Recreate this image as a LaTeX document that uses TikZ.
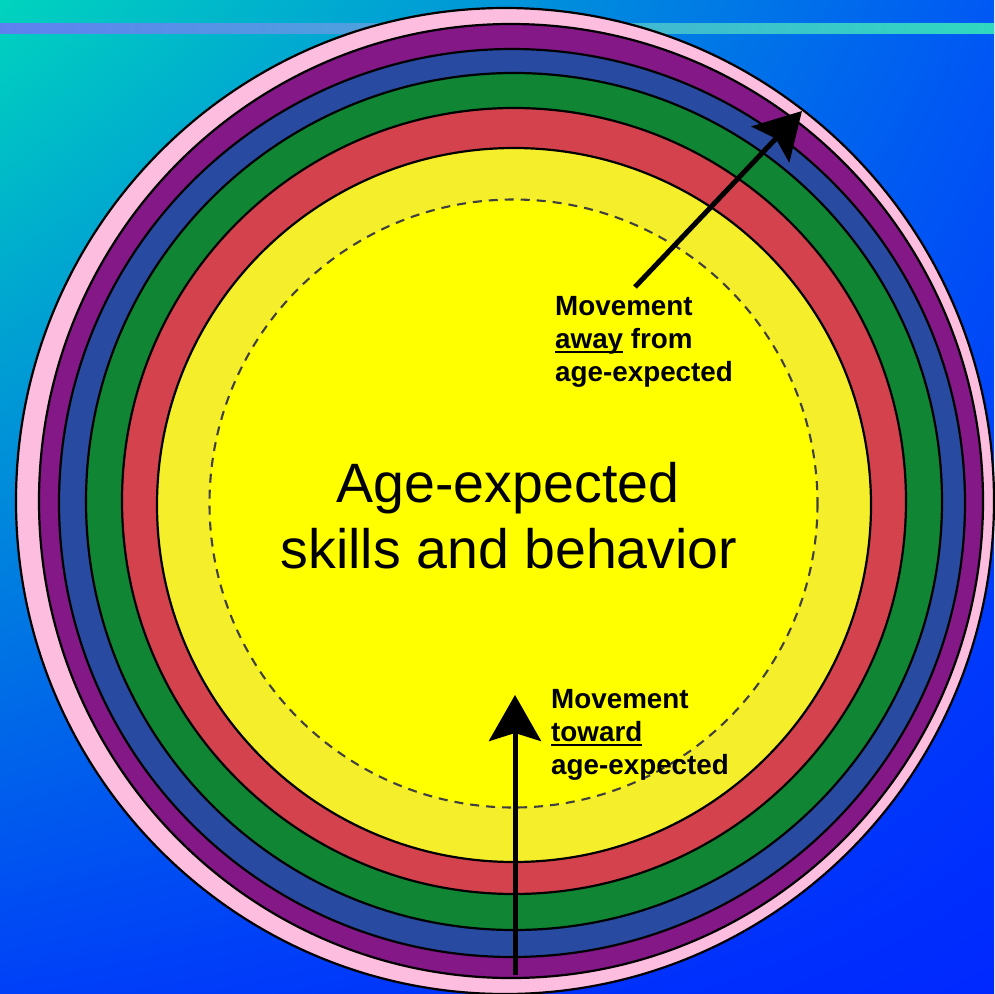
\documentclass[tikz,border=0pt]{standalone}
\usepackage{fontspec}
\setmainfont{Liberation Sans}
\usetikzlibrary{arrows.meta,shadings}
\definecolor{bgTL}{RGB}{0,212,190}
\definecolor{bgTR}{RGB}{0,88,244}
\definecolor{bgBL}{RGB}{0,64,248}
\definecolor{bgBR}{RGB}{0,40,255}
\definecolor{lnL}{RGB}{96,128,240}
\definecolor{lnR}{RGB}{48,216,192}
\definecolor{cPink}{RGB}{252,189,222}
\definecolor{cPurple}{RGB}{132,24,134}
\definecolor{cBlue}{RGB}{40,74,160}
\definecolor{cGreen}{RGB}{16,133,52}
\definecolor{cRed}{RGB}{212,66,78}
\definecolor{cPale}{RGB}{245,238,42}
\definecolor{cYel}{RGB}{255,255,0}
\definecolor{cDash}{RGB}{64,64,64}
\newcommand{\myul}[1]{\setbox0\hbox{#1}\rlap{\rule[-5pt]{\wd0}{2.2pt}}#1}
\begin{document}
\begin{tikzpicture}[x=1pt,y=-1pt,
  ring/.style={draw=black,line width=2.2pt},
  dashline/.style={draw=cDash,line width=2.1pt,dash pattern=on 9pt off 7pt},
  bigtxt/.style={font=\fontsize{55.5}{66}\selectfont,anchor=base,inner sep=0pt,text=black},
  smalltxt/.style={font=\fontsize{27.8}{33}\selectfont\bfseries,anchor=base west,inner sep=0pt,text=black},
  movearrow/.style={line width=5pt,-{Stealth[length=46pt,width=52pt,inset=8pt]}}]
\useasboundingbox (0,0) rectangle (994,994);
\shade[upper left=bgTL,upper right=bgTR,lower left=bgBL,lower right=bgBR] (0,0) rectangle (994,994);
\shade[left color=lnL,right color=lnR] (0,23) rectangle (994,33);
\draw[ring,fill=cPink] (505,501) ellipse [x radius=489,y radius=493];
\draw[ring,fill=cPurple] (511,501) ellipse [x radius=472,y radius=477];
\draw[ring,fill=cBlue] (512,503) ellipse [x radius=453,y radius=454];
\draw[ring,fill=cGreen] (514,501.5) ellipse [x radius=428,y radius=428.5];
\draw[ring,fill=cRed] (514,501) ellipse [x radius=392,y radius=393];
\draw[ring,fill=cPale] (514,505) ellipse [x radius=357,y radius=357];
\fill[cYel] (513.5,503.5) circle [radius=304];
\draw[dashline] (513.5,503.5) circle [radius=304];
\node[bigtxt] (m1) at (508,502) {Age-expected};
\node[bigtxt] (m2) at (509,568) {skills and behavior};
\node[smalltxt] (a1) at (555,315) {Movement};
\node[smalltxt] (a2) at (555,348) {\myul{away} from};
\node[smalltxt] (a3) at (555,381) {age-expected};
\node[smalltxt] (b1) at (551,708) {Movement};
\node[smalltxt] (b2) at (551,741) {\myul{toward}};
\node[smalltxt] (b3) at (551,774) {age-expected};
\coordinate (a1s) at (635,287);
\coordinate (a1e) at (802,111);
\coordinate (a2s) at (515,975);
\coordinate (a2e) at (515,695);
\draw[movearrow] (a1s) -- (a1e);
\draw[movearrow] (a2s) -- (a2e);
\end{tikzpicture}
\end{document}
